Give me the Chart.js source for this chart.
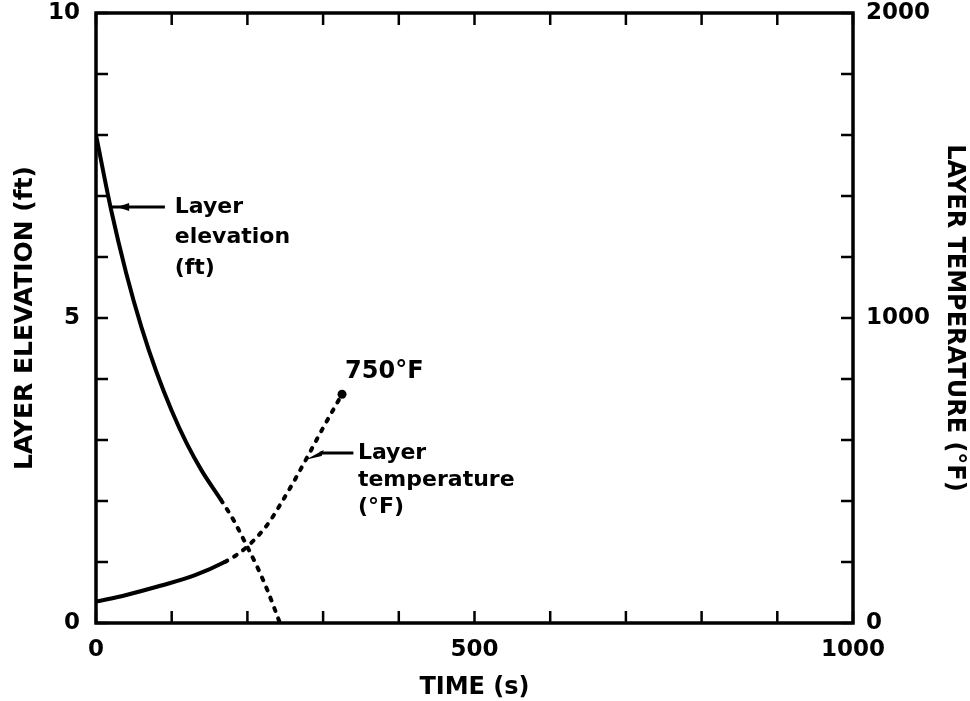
<!DOCTYPE html>
<html>
<head>
<meta charset="utf-8">
<title>Layer elevation and temperature</title>
<script src="https://cdn.jsdelivr.net/npm/chart.js@4.4.1/dist/chart.umd.min.js"></script>
<style>
  html, body { margin: 0; padding: 0; background: #fff; }
  #wrap { width: 970px; height: 701px; }
</style>
</head>
<body>
<div id="wrap"><canvas id="chart"></canvas></div>
<script>
// hot layer: elevation (ft) and temperature (°F) against time (s)
const elevTime = [0, 20, 40, 60, 80, 100, 120, 140, 165, 182, 199, 213, 226, 243];
const elevation = [8.0, 6.77, 5.73, 4.85, 4.11, 3.48, 2.94, 2.49, 2.02, 1.68, 1.27, 0.92, 0.55, 0.0];
const tempTime = [0, 40, 85, 130, 170, 185, 199, 215, 230, 245, 260, 280, 300, 325];
const temperature = [70, 92, 122, 156, 200, 222, 249, 288, 335, 395, 458, 548, 640, 750];

// past these times the curves are drawn dotted
const elevDottedFrom = 165;
const tempDottedFrom = 170;

const xTickLabels = [0, 500, 1000];
const elevTickLabels = [0, 5, 10];
const tempTickLabels = [0, 1000, 2000];

const FONT = "'DejaVu Sans', sans-serif";
const TICK = 12;

Chart.defaults.font.family = FONT;
Chart.defaults.color = '#000';

// frame with inward ticks on all four sides
const boxTicks = {
  id: 'boxTicks',
  afterDatasetsDraw(chart) {
    const { ctx, chartArea: a, scales } = chart;
    ctx.save();
    ctx.strokeStyle = '#000';
    ctx.lineWidth = 3.5;
    ctx.strokeRect(a.left, a.top, a.right - a.left, a.bottom - a.top);
    ctx.lineWidth = 2.5;
    ctx.beginPath();
    scales.x.ticks.forEach(t => {
      const px = scales.x.getPixelForValue(t.value);
      ctx.moveTo(px, a.bottom); ctx.lineTo(px, a.bottom - TICK);
      ctx.moveTo(px, a.top); ctx.lineTo(px, a.top + TICK);
    });
    scales.y.ticks.forEach(t => {
      const py = scales.y.getPixelForValue(t.value);
      ctx.moveTo(a.left, py); ctx.lineTo(a.left + TICK, py);
    });
    scales.y1.ticks.forEach(t => {
      const py = scales.y1.getPixelForValue(t.value);
      ctx.moveTo(a.right, py); ctx.lineTo(a.right - TICK, py);
    });
    ctx.stroke();
    ctx.restore();
  }
};

// curve labels with pointer arrows
const curveNotes = {
  id: 'curveNotes',
  afterDatasetsDraw(chart) {
    const { ctx, scales: { x, y, y1 } } = chart;
    ctx.save();
    ctx.fillStyle = '#000';
    ctx.strokeStyle = '#000';
    ctx.textBaseline = 'middle';
    ctx.textAlign = 'left';

    ctx.font = 'bold 24px ' + FONT;
    ctx.fillText('750°F', x.getPixelForValue(329), y1.getPixelForValue(823));

    ctx.font = 'bold 22px ' + FONT;
    const ex = x.getPixelForValue(104);
    ['Layer', 'elevation', '(ft)'].forEach((s, i) => {
      ctx.fillText(s, ex, y.getPixelForValue(6.82 - i * 0.5));
    });
    const tx = x.getPixelForValue(346);
    ['Layer', 'temperature', '(°F)'].forEach((s, i) => {
      ctx.fillText(s, tx, y1.getPixelForValue(557 - i * 88));
    });

    // elevation pointer
    const ay = y.getPixelForValue(6.82);
    let x0 = x.getPixelForValue(91);
    const x1 = x.getPixelForValue(20);
    ctx.lineWidth = 3;
    ctx.beginPath(); ctx.moveTo(x0, ay); ctx.lineTo(x1, ay); ctx.stroke();
    ctx.beginPath();
    ctx.moveTo(x1 + 6, ay); ctx.lineTo(x1 + 18, ay - 4); ctx.lineTo(x1 + 18, ay + 4);
    ctx.closePath(); ctx.fill();

    // temperature pointer
    const by = y1.getPixelForValue(557);
    x0 = x.getPixelForValue(340);
    const cx = x.getPixelForValue(277), cy = y1.getPixelForValue(535);
    ctx.beginPath(); ctx.moveTo(x0, by); ctx.lineTo(cx + 14, by); ctx.stroke();
    ctx.beginPath();
    ctx.moveTo(cx, cy); ctx.lineTo(cx + 18, by - 3); ctx.lineTo(cx + 16, by + 3);
    ctx.closePath(); ctx.fill();
    ctx.restore();
  }
};

const dotted = from => ({
  borderDash: c => (c.p0.parsed.x >= from ? [3, 8] : undefined)
});

// fixed box sizes so the plot frame sits where the axes expect it
const fitY = width => s => {
  s.width = width;
  s.paddingTop = 13;
  s.paddingBottom = 13;
};

new Chart(document.getElementById('chart'), {
  type: 'line',
  data: {
    datasets: [
      {
        label: 'Layer elevation (ft)',
        data: elevTime.map((t, i) => ({ x: t, y: elevation[i] })),
        yAxisID: 'y',
        borderColor: '#000',
        borderWidth: 4,
        borderCapStyle: 'round',
        cubicInterpolationMode: 'monotone',
        pointRadius: 0,
        segment: dotted(elevDottedFrom)
      },
      {
        label: 'Layer temperature (°F)',
        data: tempTime.map((t, i) => ({ x: t, y: temperature[i] })),
        yAxisID: 'y1',
        borderColor: '#000',
        backgroundColor: '#000',
        borderWidth: 4,
        borderCapStyle: 'round',
        cubicInterpolationMode: 'monotone',
        pointRadius: c => (c.dataIndex === tempTime.length - 1 ? 4.5 : 0),
        pointBorderWidth: 0,
        segment: dotted(tempDottedFrom)
      }
    ]
  },
  options: {
    responsive: true,
    maintainAspectRatio: false,
    animation: false,
    devicePixelRatio: 1,
    layout: { padding: 0 },
    plugins: {
      legend: { display: false },
      tooltip: { enabled: false }
    },
    scales: {
      x: {
        type: 'linear',
        min: 0,
        max: 1000,
        grid: { display: false, drawTicks: false },
        border: { display: false },
        ticks: {
          stepSize: 100,
          autoSkip: false,
          maxRotation: 0,
          padding: 13,
          font: { size: 23, weight: 'bold' },
          callback: v => (xTickLabels.includes(v) ? String(v) : '')
        },
        title: {
          display: true,
          text: 'TIME (s)',
          font: { size: 24, weight: 'bold', lineHeight: 1 },
          padding: { top: 0, bottom: 1 }
        },
        afterFit: s => { s.height = 78; }
      },
      y: {
        type: 'linear',
        position: 'left',
        min: 0,
        max: 10,
        grid: { display: false, drawTicks: false },
        border: { display: false },
        ticks: {
          stepSize: 1,
          autoSkip: false,
          padding: 16,
          font: { size: 23, weight: 'bold' },
          callback: v => (elevTickLabels.includes(v) ? String(v) : '')
        },
        title: {
          display: true,
          text: 'LAYER ELEVATION (ft)',
          font: { size: 25, weight: 'bold', lineHeight: 1 },
          padding: { top: 13, bottom: 0 }
        },
        afterFit: fitY(96)
      },
      y1: {
        type: 'linear',
        position: 'right',
        min: 0,
        max: 2000,
        grid: { display: false, drawTicks: false },
        border: { display: false },
        ticks: {
          stepSize: 200,
          autoSkip: false,
          padding: 13,
          font: { size: 23, weight: 'bold' },
          callback: v => (tempTickLabels.includes(v) ? String(v) : '')
        },
        title: {
          display: true,
          text: 'LAYER TEMPERATURE (°F)',
          font: { size: 24, weight: 'bold', lineHeight: 1 },
          padding: { top: 4, bottom: 0 }
        },
        afterFit: fitY(117)
      }
    }
  },
  plugins: [boxTicks, curveNotes]
});
</script>
</body>
</html>
